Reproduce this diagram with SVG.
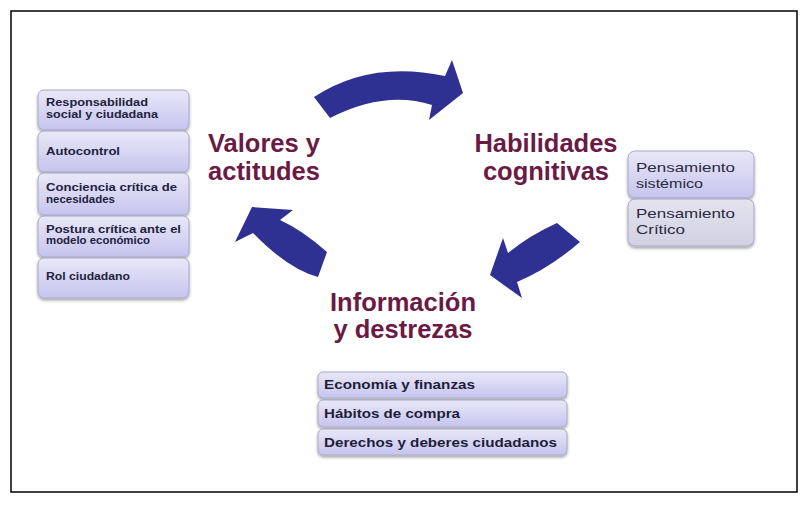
<svg xmlns="http://www.w3.org/2000/svg" width="807" height="506" viewBox="0 0 807 506">
<defs>
<linearGradient id="lav" x1="0" y1="0" x2="0" y2="1">
<stop offset="0" stop-color="#e9e8f8"/>
<stop offset="1" stop-color="#c6c4ee"/>
</linearGradient>
<linearGradient id="gry" x1="0" y1="0" x2="0" y2="1">
<stop offset="0" stop-color="#e4e3ee"/>
<stop offset="1" stop-color="#d2d1e4"/>
</linearGradient>
<filter id="sh" x="-10%" y="-10%" width="120%" height="130%">
<feGaussianBlur in="SourceAlpha" stdDeviation="1.5"/>
<feOffset dx="0" dy="2" result="b"/>
<feComponentTransfer><feFuncA type="linear" slope="0.35"/></feComponentTransfer>
<feMerge><feMergeNode/><feMergeNode in="SourceGraphic"/></feMerge>
</filter>
</defs>
<style>
.box{fill:url(#lav);stroke:#a8a7c4;stroke-width:1;filter:url(#sh)}
.boxg{fill:url(#gry);stroke:#a8a7c4;stroke-width:1;filter:url(#sh)}
.main{font-family:"Liberation Sans",Arial,sans-serif;font-weight:bold;font-size:25.5px;fill:#6b1a45;text-anchor:middle}
.sm{font-family:"Liberation Sans",Arial,sans-serif;font-weight:bold;font-size:10.5px;fill:#22223e}
.md{font-family:"Liberation Sans",Arial,sans-serif;font-size:13px;fill:#2a2a40}
.bt{font-family:"Liberation Sans",Arial,sans-serif;font-weight:bold;font-size:12.5px;fill:#1e1e3a}
.arr{fill:#2f3192}
</style>
<rect x="0" y="0" width="807" height="506" fill="#ffffff"/>
<rect x="11" y="11" width="786" height="481" fill="#ffffff" stroke="#000000" stroke-width="1.5"/>

<g id="connectors">
<path class="arr" d="M330,118 L314,97 Q370,60 445,76 L452,60 L463,93 L429,120 L432,105 Q385,90 330,118 Z"/>
<path class="arr" d="M557,223 L580,242 Q550,268 517,282 L522,298 L490,275 L503,238 L508,253 Q530,235 557,223 Z"/>
<path class="arr" d="M235,242 L252,207 L293,210 L280,220 Q302,230 327,252 L318,277 Q288,269 253,233 Z"/>
</g>

<g id="valores">
<text class="main" x="264" y="152">Valores y</text>
<text class="main" x="264" y="180">actitudes</text>
</g>
<g id="habilidades">
<text class="main" x="546" y="152">Habilidades</text>
<text class="main" x="546" y="180">cognitivas</text>
</g>
<g id="informacion">
<text class="main" x="403" y="311">Información</text>
<text class="main" x="403" y="338">y destrezas</text>
</g>

<g id="valores-items">
<g id="v1"><rect class="box" x="38" y="90" width="151" height="40" rx="6"/>
<text class="sm" x="46" y="106" textLength="102" lengthAdjust="spacingAndGlyphs">Responsabilidad</text>
<text class="sm" x="46" y="118" textLength="112" lengthAdjust="spacingAndGlyphs">social y ciudadana</text></g>
<g id="v2"><rect class="box" x="38" y="131" width="151" height="41" rx="6"/>
<text class="sm" x="46" y="155" textLength="74" lengthAdjust="spacingAndGlyphs">Autocontrol</text></g>
<g id="v3"><rect class="box" x="38" y="173" width="151" height="42" rx="6"/>
<text class="sm" x="46" y="191" textLength="131" lengthAdjust="spacingAndGlyphs">Conciencia crítica de</text>
<text class="sm" x="46" y="203" textLength="69" lengthAdjust="spacingAndGlyphs">necesidades</text></g>
<g id="v4"><rect class="box" x="38" y="216" width="151" height="41" rx="6"/>
<text class="sm" x="46" y="233" textLength="135" lengthAdjust="spacingAndGlyphs">Postura crítica ante el</text>
<text class="sm" x="46" y="244" textLength="104" lengthAdjust="spacingAndGlyphs">modelo económico</text></g>
<g id="v5"><rect class="box" x="38" y="258" width="151" height="40" rx="6"/>
<text class="sm" x="46" y="280" textLength="84" lengthAdjust="spacingAndGlyphs">Rol ciudadano</text></g>
</g>

<g id="habilidades-items">
<g id="h1"><rect class="box" x="628" y="151" width="126" height="47" rx="7"/>
<text class="md" x="636" y="172" textLength="99" lengthAdjust="spacingAndGlyphs">Pensamiento</text>
<text class="md" x="636" y="188" textLength="67" lengthAdjust="spacingAndGlyphs">sistémico</text></g>
<g id="h2"><rect class="boxg" x="628" y="199" width="126" height="47" rx="7"/>
<text class="md" x="636" y="218" textLength="99" lengthAdjust="spacingAndGlyphs">Pensamiento</text>
<text class="md" x="636" y="234" textLength="49" lengthAdjust="spacingAndGlyphs">Crítico</text></g>
</g>

<g id="informacion-items">
<g id="i1"><rect class="box" x="318" y="372" width="249" height="26" rx="5"/>
<text class="bt" x="324" y="389" textLength="151" lengthAdjust="spacingAndGlyphs">Economía y finanzas</text></g>
<g id="i2"><rect class="box" x="318" y="400" width="249" height="27" rx="5"/>
<text class="bt" x="324" y="418" textLength="136" lengthAdjust="spacingAndGlyphs">Hábitos de compra</text></g>
<g id="i3"><rect class="box" x="318" y="429" width="249" height="26" rx="5"/>
<text class="bt" x="324" y="447" textLength="233" lengthAdjust="spacingAndGlyphs">Derechos y deberes ciudadanos</text></g>
</g>
</svg>
